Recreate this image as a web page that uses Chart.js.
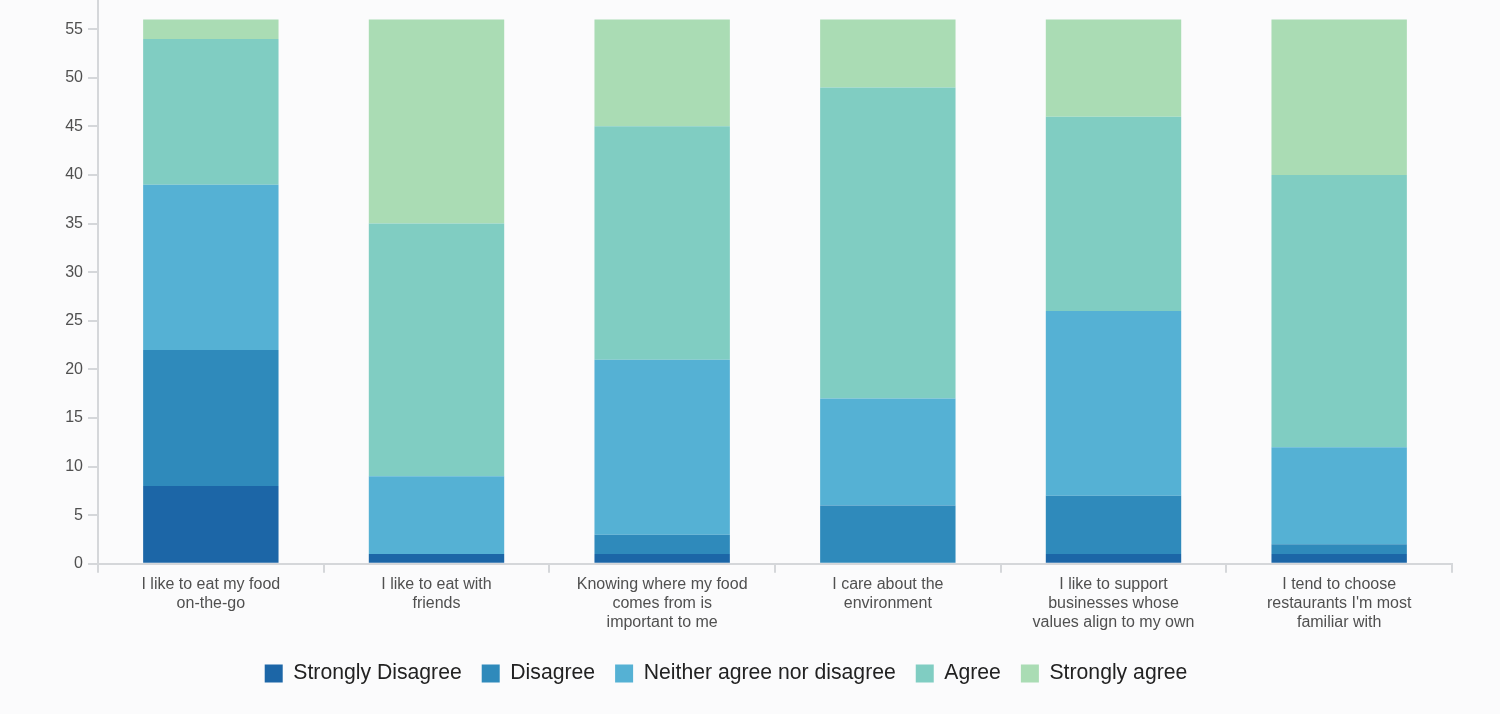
<!DOCTYPE html>
<html>
<head>
<meta charset="utf-8">
<script src="https://cdn.jsdelivr.net/npm/chart.js@4"></script>
<style>
  html, body { margin: 0; padding: 0; background: #fbfbfc; }
  #wrap { width: 1500px; height: 714px; position: relative; }
</style>
</head>
<body>
<div id="wrap"><canvas id="c" width="1500" height="714"></canvas></div>
<script>
const categories = [
  ["I like to eat my food", "on-the-go"],
  ["I like to eat with", "friends"],
  ["Knowing where my food", "comes from is", "important to me"],
  ["I care about the", "environment"],
  ["I like to support", "businesses whose", "values align to my own"],
  ["I tend to choose", "restaurants I'm most", "familiar with"]
];
const seriesNames = ["Strongly Disagree", "Disagree", "Neither agree nor disagree", "Agree", "Strongly agree"];
const stronglyDisagree = [8, 1, 1, 0, 1, 1];
const disagree         = [14, 0, 2, 6, 6, 1];
const neither          = [17, 8, 18, 11, 19, 10];
const agree            = [15, 26, 24, 32, 20, 28];
const stronglyAgree    = [2, 21, 11, 7, 10, 16];
const yTicks = [0, 5, 10, 15, 20, 25, 30, 35, 40, 45, 50, 55];

const colors = ["#1c66a7", "#2f8abb", "#55b1d4", "#80cdc2", "#aadcb4"];
const values = [stronglyDisagree, disagree, neither, agree, stronglyAgree];

const font = "'Liberation Sans', Arial, sans-serif";

new Chart(document.getElementById('c'), {
  type: 'bar',
  data: {
    labels: categories,
    datasets: seriesNames.map((n, i) => ({
      label: n,
      data: values[i],
      backgroundColor: colors[i],
      borderWidth: 0,
      barPercentage: 0.6,
      categoryPercentage: 1.0
    }))
  },
  options: {
    responsive: false,
    animation: false,
    layout: { padding: { left: 0, right: 48, top: 0, bottom: 20 } },
    plugins: {
      tooltip: { enabled: false },
      legend: {
        position: 'bottom',
        labels: {
          boxWidth: 18, boxHeight: 18, padding: 20,
          color: '#222',
          font: { family: font, size: 21.2 }
        }
      }
    },
    scales: {
      x: {
        stacked: true,
        border: { color: '#d5d7da', width: 2 },
        grid: { display: true, drawOnChartArea: false, offset: true, tickLength: 9, color: '#d5d7da', lineWidth: 2 },
        ticks: { color: '#505050', font: { family: font, size: 16 }, padding: 2, maxRotation: 0, autoSkip: false },
        afterFit: (s) => { s.height = 79; }
      },
      y: {
        stacked: true,
        min: 0, max: 58,
        border: { color: '#d5d7da', width: 2 },
        grid: { display: true, drawOnChartArea: false, tickLength: 10, color: '#d5d7da', lineWidth: 2 },
        ticks: { color: '#505050', font: { family: font, size: 16 }, padding: 5, stepSize: 5 },
        afterBuildTicks: (s) => { s.ticks = yTicks.map(v => ({ value: v })); },
        afterFit: (s) => { s.width = 98; s.paddingTop = 0; }
      }
    }
  }
});
</script>
</body>
</html>
